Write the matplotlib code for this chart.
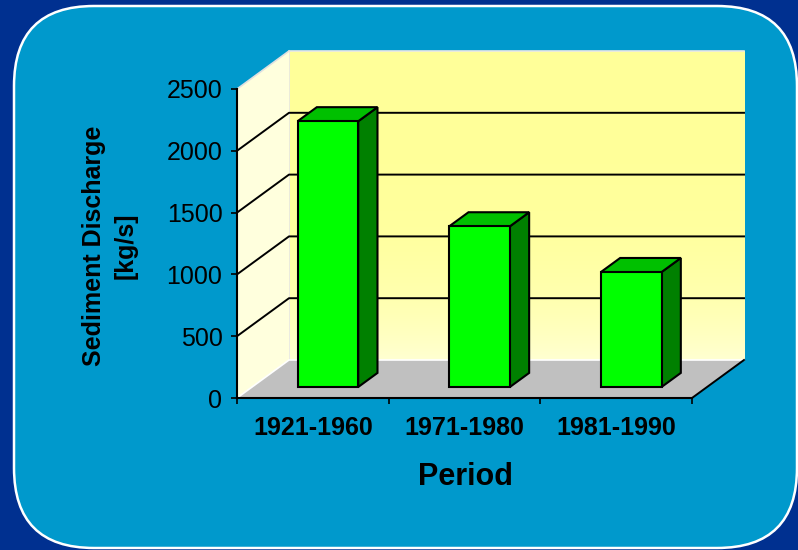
import numpy as np
import matplotlib
matplotlib.use('Agg')
import matplotlib.pyplot as plt
from matplotlib.patches import Polygon, FancyBboxPatch

periods = ['1921-1960', '1971-1980', '1981-1990']
discharge = [2150, 1300, 930]
yticks = [0, 500, 1000, 1500, 2000, 2500]

plt.rcParams['font.family'] = ['Liberation Sans', 'DejaVu Sans']

W, H = 798, 550
fig = plt.figure(figsize=(W / 100, H / 100), dpi=100)
fig.patch.set_facecolor('#003090')

# background panel
bg = fig.add_axes([0, 0, 1, 1])
bg.set_xlim(0, W)
bg.set_ylim(H, 0)
bg.axis('off')
bg.add_patch(FancyBboxPatch((14, 6), 783, 542,
                            boxstyle='round,pad=0,rounding_size=80',
                            facecolor='#0099CC', edgecolor='white', linewidth=1.8))

# front plane of the pseudo-3d chart
ax = fig.add_axes([237 / W, (H - 398) / H, 455 / W, 309 / H])
ax.set_xlim(0, 3)
ax.set_ylim(0, 2500)
ax.patch.set_alpha(0)
for s in ax.spines.values():
    s.set_visible(False)

ymax = yticks[-1]
ncat = len(periods)
ddx = 52 / 151.67      # depth offset in category units
ddy = 38 / 0.1236      # depth offset in value units

# back wall with gradient
grad = np.linspace(0, 1, 256) ** 4
cols = np.zeros((256, 1, 3))
cols[:, 0, 0] = 1.0
cols[:, 0, 1] = 1.0
cols[:, 0, 2] = 0.6 + 0.22 * grad
ax.imshow(cols, extent=[ddx, ncat + ddx, ddy, ymax + ddy], aspect='auto',
          origin='upper', zorder=0, clip_on=False)
ax.plot([ddx, ddx, ncat + ddx], [ddy, ymax + ddy, ymax + ddy], color='#E8E8E8',
        lw=1.2, clip_on=False, zorder=1)

# left wall
ax.add_patch(Polygon([(0, 0), (0, ymax), (ddx, ymax + ddy), (ddx, ddy)],
                     closed=True, facecolor='#FFFFDD', edgecolor='none',
                     clip_on=False, zorder=1))
ax.plot([0, ddx], [ymax, ymax + ddy], color='#E0E0E0', lw=1.2, clip_on=False, zorder=1)

# floor
ax.add_patch(Polygon([(0, 0), (ncat, 0), (ncat + ddx, ddy), (ddx, ddy)],
                     closed=True, facecolor='#C0C0C0', edgecolor='none',
                     clip_on=False, zorder=1))
ax.plot([0, ddx, ncat + ddx], [0, ddy, ddy], color='white', lw=1.2, clip_on=False, zorder=1)
ax.plot([ncat, ncat + ddx], [0, ddy], color='black', lw=1.4, clip_on=False, zorder=2)

# gridlines
for v in yticks[1:-1]:
    ax.plot([0, ddx, ncat + ddx], [v, v + ddy, v + ddy], color='black', lw=1.4,
            clip_on=False, zorder=2)

# bars
df, db = 0.29, 0.66
bw = 0.4
for i, v in enumerate(discharge):
    x0 = i + 0.5 - bw / 2
    x1 = i + 0.5 + bw / 2
    fx, fy = df * ddx, df * ddy
    bx, by = db * ddx, db * ddy
    kw = dict(closed=True, edgecolor='black', linewidth=1.5, clip_on=False, zorder=3)
    ax.add_patch(Polygon([(x1 + fx, fy), (x1 + bx, by), (x1 + bx, v + by), (x1 + fx, v + fy)],
                         facecolor='#008000', **kw))
    ax.add_patch(Polygon([(x0 + fx, v + fy), (x1 + fx, v + fy), (x1 + bx, v + by), (x0 + bx, v + by)],
                         facecolor='#00C000', **kw))
    ax.add_patch(Polygon([(x0 + fx, fy), (x1 + fx, fy), (x1 + fx, v + fy), (x0 + fx, v + fy)],
                         facecolor='#00FF00', **kw))

# axes lines
ax.plot([0, 0], [0, ymax], color='black', lw=1.5, clip_on=False, zorder=4)
ax.plot([0, ncat], [0, 0], color='black', lw=1.5, clip_on=False, zorder=4)

ax.set_yticks(yticks)
ax.set_yticklabels([str(t) for t in yticks], fontsize=18)
ax.tick_params(axis='y', direction='out', length=4.5, width=1.2, pad=6)
ax.set_xticks(range(ncat + 1))
ax.set_xticklabels([])
ax.tick_params(axis='x', which='major', direction='out', length=4.5, width=1.2)
ax.set_xticks([i + 0.5 for i in range(ncat)], minor=True)
ax.set_xticklabels(periods, minor=True, fontsize=18, fontweight='bold')
ax.tick_params(axis='x', which='minor', length=0, pad=13)

fig.text(465 / W, 1 - 477 / H, 'Period', fontsize=22, fontweight='bold',
         ha='center', va='center')
fig.text(110 / W, 1 - 246 / H, 'Sediment Discharge\n[kg/s]', fontsize=18,
         fontweight='bold', rotation=90, ha='center', va='center',
         multialignment='center', linespacing=1.4)

fig.savefig('out.png', dpi=100, facecolor=fig.get_facecolor())
